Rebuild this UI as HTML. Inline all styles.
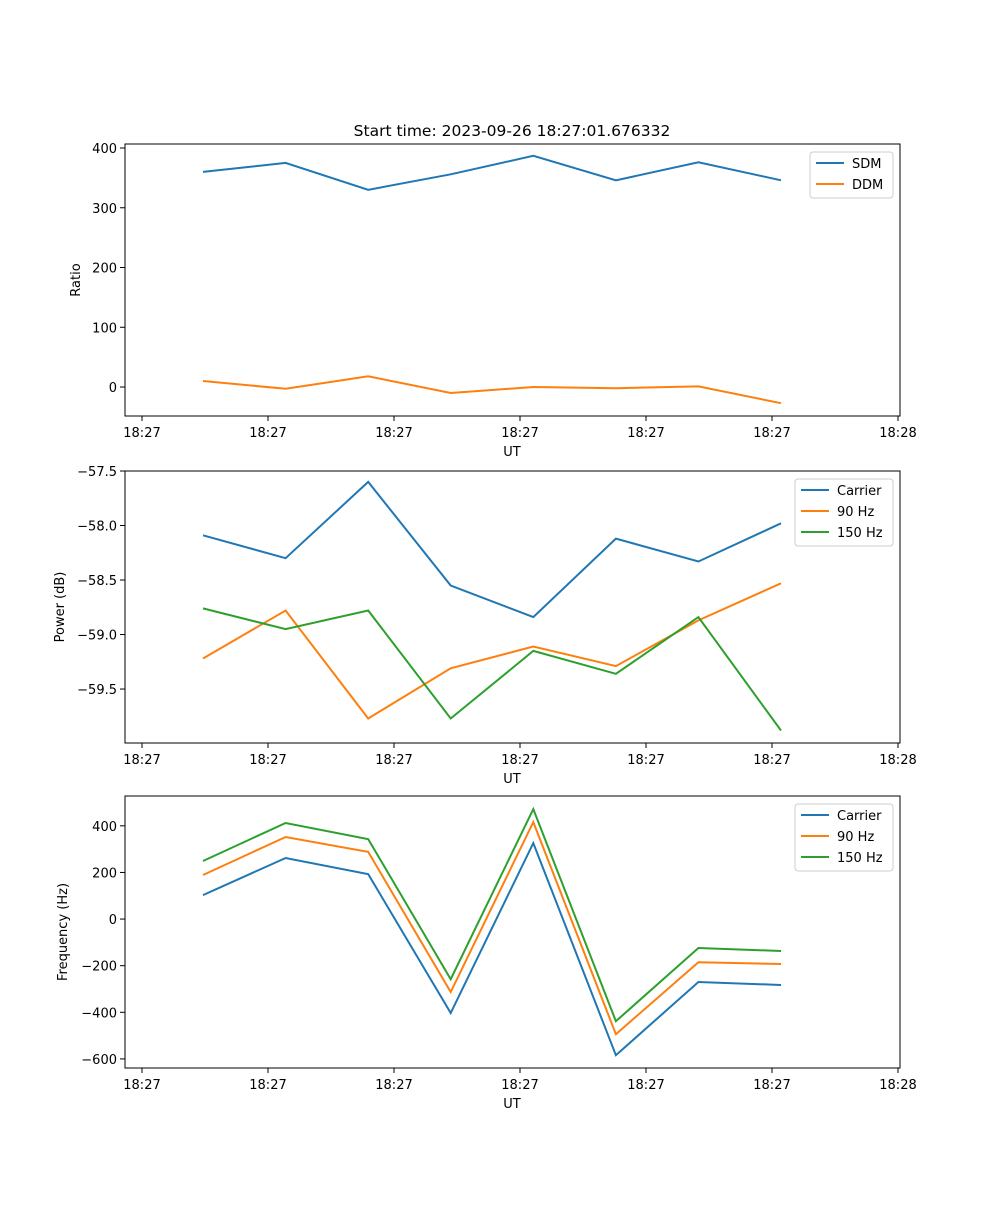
<!DOCTYPE html>
<html><head><meta charset="utf-8"><style>
body{margin:0;background:#fff;}
svg text{font-family:"DejaVu Sans","Liberation Sans",sans-serif;font-size:13px;fill:#000;}
</style></head><body>
<svg id="fig" width="1000" height="1200" xmlns="http://www.w3.org/2000/svg">
<rect width="1000" height="1200" fill="#fff"/>
<text x="512" y="136" text-anchor="middle" style="font-size:15.5px">Start time: 2023-09-26 18:27:01.676332</text>
</svg>
<script>
const xs=[0,1,2,3,4,5,6,7];
const xTickVals=[-0.739,0.787,2.313,3.839,5.365,6.891,8.417];
const xTickLabels=["18:27","18:27","18:27","18:27","18:27","18:27","18:28"];
const sdm=[360,375,330,356,387,346,376,346];
const ddm=[10,-3,18,-10,0,-2,1,-27];
const pCarrier=[-58.09,-58.30,-57.60,-58.55,-58.84,-58.12,-58.33,-57.98];
const p90=[-59.22,-58.78,-59.77,-59.31,-59.11,-59.29,-58.87,-58.53];
const p150=[-58.76,-58.95,-58.78,-59.77,-59.15,-59.36,-58.84,-59.88];
const fCarrier=[103,262,193,-403,326,-584,-270,-283];
const f90=[189,352,288,-313,416,-494,-185,-193];
const f150=[249,412,343,-258,472,-438,-124,-137];
const ticks1=[0,100,200,300,400];
const ticks2=[-59.5,-59.0,-58.5,-58.0,-57.5];
const ticks3=[-600,-400,-200,0,200,400];
const NS="http://www.w3.org/2000/svg";
const svg=document.getElementById('fig');
function mk(t,a,p){const e=document.createElementNS(NS,t);for(const k in a)e.setAttribute(k,a[k]);(p||svg).appendChild(e);return e;}
const L=125,R=900,xmin=-0.739-(142-125)/82.57,xmax=xmin+(R-L)/82.57;
function sx(v){return L+(v-xmin)/(xmax-xmin)*(R-L);}
function panel(name,top,ymin,ymax,yt,fmt,ylabel,series,legend){
  const B=top+272;
  const sy=v=>B-(v-ymin)/(ymax-ymin)*272;
  const g=mk('g',{});
  
  
  series.forEach(s=>{
    const pts=xs.map((x,i)=>sx(x).toFixed(1)+','+sy(s.v[i]).toFixed(1)).join(' ');
    const pl=mk('polyline',{points:pts,fill:'none',stroke:s.c,'stroke-width':2},g);
    
    
  });
  const fr=mk('rect',{x:L,y:top,width:R-L,height:272,fill:'none',stroke:'#000','stroke-width':1},g);
  
  
  yt.forEach(v=>{const y=sy(v);mk('line',{x1:L-5,x2:L,y1:y,y2:y,stroke:'#000'},g);
    const t=mk('text',{x:L-8,y:y+5,'text-anchor':'end'},g);t.textContent=fmt(v).replace('-','\u2212');
    
    });
  xTickVals.forEach((v,i)=>{const x=sx(v);mk('line',{x1:x,x2:x,y1:B,y2:B+5,stroke:'#000'},g);
    const t=mk('text',{x:x,y:B+21,'text-anchor':'middle'},g);t.textContent=xTickLabels[i];
    
    });
  const xl=mk('text',{x:512,y:B+40,'text-anchor':'middle'},g);xl.textContent='UT';
  
  
  const yl=mk('text',{x:0,y:0,'text-anchor':'middle',transform:`translate(${legend.yx},${top+136}) rotate(-90)`},g);yl.textContent=ylabel;
  
  
  const lg=mk('g',{},g);
  
  
  const h=series.length*21+4;
  mk('rect',{x:legend.x,y:top+8,width:R-7-legend.x,height:h,rx:3,fill:'#fff',stroke:'#ccc'},lg);
  series.forEach((s,i)=>{const y=top+8+11+i*21;
    mk('line',{x1:legend.x+6,x2:legend.x+34,y1:y,y2:y,stroke:s.c,'stroke-width':2},lg);
    const t=mk('text',{x:legend.x+42,y:y+5},lg);t.textContent=s.label;
    
    });
}
const C1='#1f77b4',C2='#ff7f0e',C3='#2ca02c';
panel('ratio-panel',144,-48.5,406.7,ticks1,v=>String(v),'Ratio',
  [{n:'sdm-line',v:sdm,c:C1,label:'SDM'},{n:'ddm-line',v:ddm,c:C2,label:'DDM'}],{x:810,yx:80});
panel('power-panel',471,-59.995,-57.5,ticks2,v=>v.toFixed(1),'Power (dB)',
  [{n:'carrier-power-line',v:pCarrier,c:C1,label:'Carrier'},{n:'90hz-power-line',v:p90,c:C2,label:'90 Hz'},{n:'150hz-power-line',v:p150,c:C3,label:'150 Hz'}],{x:795,yx:64});
panel('frequency-panel',796,-639,528,ticks3,v=>String(v),'Frequency (Hz)',
  [{n:'carrier-freq-line',v:fCarrier,c:C1,label:'Carrier'},{n:'90hz-freq-line',v:f90,c:C2,label:'90 Hz'},{n:'150hz-freq-line',v:f150,c:C3,label:'150 Hz'}],{x:795,yx:67});
</script>
</body></html>
